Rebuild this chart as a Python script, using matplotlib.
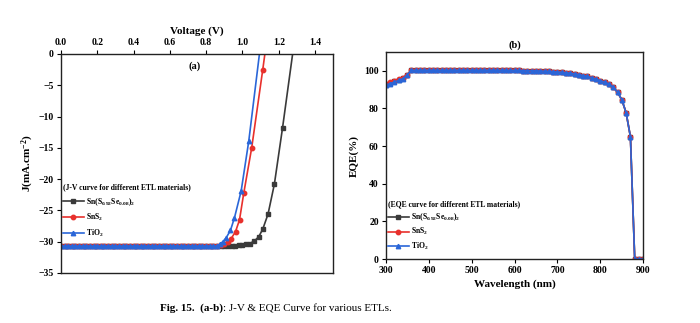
import matplotlib
matplotlib.use("Agg")
import matplotlib.pyplot as plt

plt.rcParams['font.family'] = ['Liberation Serif', 'DejaVu Serif']
plt.rcParams['font.weight'] = 'bold'
plt.rcParams['mathtext.fontset'] = 'custom'
plt.rcParams['mathtext.rm'] = 'Liberation Serif:bold'
plt.rcParams['mathtext.bf'] = 'Liberation Serif:bold'
plt.rcParams['mathtext.it'] = 'Liberation Serif:bold:italic'
plt.rcParams['mathtext.default'] = 'bf'

# ---- J-V data ----
v_flat = [0.00, 0.02, 0.04, 0.06, 0.08, 0.10, 0.12, 0.14, 0.16, 0.18,
          0.20, 0.22, 0.24, 0.26, 0.28, 0.30, 0.32, 0.34, 0.36, 0.38,
          0.40, 0.42, 0.44, 0.46, 0.48, 0.50, 0.52, 0.54, 0.56, 0.58,
          0.60, 0.62, 0.64, 0.66, 0.68, 0.70, 0.72, 0.74, 0.76, 0.78,
          0.80, 0.82, 0.84, 0.86]
j_flat = [-30.7] * len(v_flat)

v_snsse = v_flat + [0.88, 0.90, 0.92, 0.94, 0.96, 0.98, 1.00, 1.02, 1.04, 1.066,
                    1.09, 1.112, 1.141, 1.176, 1.221, 1.30]
j_snsse = j_flat + [-30.7, -30.7, -30.7, -30.7, -30.65, -30.6, -30.55, -30.45, -30.3, -29.9,
                    -29.2, -28.0, -25.6, -20.8, -11.8, 5.0]

v_sns2 = v_flat + [0.88, 0.90, 0.92, 0.938, 0.962, 0.984, 1.007, 1.051, 1.112, 1.14]
j_sns2 = j_flat + [-30.6, -30.4, -30.0, -29.5, -28.4, -26.5, -22.3, -15.0, -2.5, 3.5]

v_tio2 = v_flat + [0.875, 0.892, 0.910, 0.934, 0.956, 0.993, 1.035, 1.10]
j_tio2 = j_flat + [-30.4, -30.0, -29.4, -28.2, -26.2, -21.9, -13.9, 1.5]

# ---- EQE data ----
wavelength = [300, 310, 320, 330, 340, 350, 360, 370, 380, 390,
              400, 410, 420, 430, 440, 450, 460, 470, 480, 490,
              500, 510, 520, 530, 540, 550, 560, 570, 580, 590,
              600, 610, 620, 630, 640, 650, 660, 670, 680, 690,
              700, 710, 720, 730, 740, 750, 760, 770, 780, 790,
              800, 810, 820, 830, 840, 850, 860, 870, 880, 890, 900]
eqe_tio2 = [92.3, 93.2, 94.0, 94.9, 95.8, 97.8, 100.3, 100.3, 100.3, 100.3,
            100.3, 100.3, 100.3, 100.3, 100.3, 100.3, 100.3, 100.3, 100.3, 100.3,
            100.3, 100.3, 100.3, 100.3, 100.3, 100.3, 100.3, 100.3, 100.3, 100.2,
            100.2, 100.2, 100.1, 100.1, 100.0, 100.0, 99.9, 99.8, 99.7, 99.6,
            99.4, 99.2, 99.0, 98.7, 98.4, 98.0, 97.5, 97.0, 96.3, 95.6,
            94.8, 94.0, 92.9, 91.3, 88.6, 84.6, 77.7, 65.0, 0.0, 0.0, 0.0]
eqe_sns2 = [93.0, 93.9, 94.7, 95.5, 96.4] + eqe_tio2[5:]
eqe_snsse = [92.7, 93.6, 94.4, 95.2, 96.1] + eqe_tio2[5:]

labels = [r'Sn(S$_{0.92}$Se$_{0.08}$)$_2$', r'SnS$_2$', r'TiO$_2$']
colors = ['#3a3a3a', '#e8302c', '#2a66d8']
markers = ['s', 'o', '^']

fig = plt.figure(figsize=(7, 3.23), dpi=100)
ax1 = fig.add_axes([0.087, 0.155, 0.389, 0.678])
ax2 = fig.add_axes([0.551, 0.198, 0.368, 0.641])

# (a) J-V
jv = [(v_snsse, j_snsse), (v_sns2, j_sns2), (v_tio2, j_tio2)]
for (v, j), lab, c, m in zip(jv, labels, colors, markers):
    ax1.plot(v, j, color=c, marker=m, markersize=3.2, linewidth=1.2, label=lab)
ax1.set_xlim(0, 1.5)
ax1.set_ylim(-35, 0)
ax1.set_xticks([0.0, 0.2, 0.4, 0.6, 0.8, 1.0, 1.2, 1.4])
ax1.set_yticks([0, -5, -10, -15, -20, -25, -30, -35])
ax1.set_yticklabels(['0', '\u22125', '\u221210', '\u221215', '\u221220', '\u221225', '\u221230', '\u221235'])
ax1.xaxis.tick_top()
ax1.xaxis.set_label_position('top')
ax1.tick_params(axis='both', labelsize=7, length=3, width=0.8, pad=2)
ax1.set_xlabel('Voltage (V)', fontsize=8, fontweight='bold', labelpad=3)
ax1.set_ylabel(r'J(mA.cm$^{-2}$)', fontsize=8, fontweight='bold', labelpad=2)
ax1.text(0.49, 0.945, '(a)', transform=ax1.transAxes, ha='center', va='center',
         fontsize=7.5, fontweight='bold')
leg1 = ax1.legend(title='(J-V curve for different ETL materials)', loc='upper left',
                  bbox_to_anchor=(-0.01, 0.43), frameon=False, fontsize=5.5,
                  title_fontsize=5.5, handlelength=2.8, labelspacing=0.6,
                  handletextpad=0.2, borderaxespad=0.2)
leg1._legend_box.align = 'left'
leg1.get_title().set_fontweight('bold')

# (b) EQE
eqe = [eqe_snsse, eqe_sns2, eqe_tio2]
for e, lab, c, m in zip(eqe, labels, colors, markers):
    ax2.plot(wavelength, e, color=c, marker=m, markersize=3.2, linewidth=1.2, label=lab)
ax2.set_xlim(300, 900)
ax2.set_ylim(0, 110)
ax2.set_xticks([300, 400, 500, 600, 700, 800, 900])
ax2.set_yticks([0, 20, 40, 60, 80, 100])
ax2.tick_params(axis='both', labelsize=7, length=3, width=0.8, pad=2)
ax2.set_xlabel('Wavelength (nm)', fontsize=8, fontweight='bold', labelpad=3)
ax2.set_ylabel('EQE(%)', fontsize=8, fontweight='bold', labelpad=4)
ax2.set_title('(b)', fontsize=7.5, fontweight='bold', pad=3)
leg2 = ax2.legend(title='(EQE curve for different ETL materials)', loc='upper left',
                  bbox_to_anchor=(-0.01, 0.305), frameon=False, fontsize=5.5,
                  title_fontsize=5.5, handlelength=2.8, labelspacing=0.4,
                  handletextpad=0.2, borderaxespad=0.2)
leg2._legend_box.align = 'left'
leg2.get_title().set_fontweight('bold')

for ax in (ax1, ax2):
    for s in ax.spines.values():
        s.set_linewidth(1.0)
        s.set_color('#222222')

# caption, bold part then regular part
r = fig.canvas.get_renderer()
t1 = fig.text(0.229, 0.045, 'Fig. 15.  (a-b)', fontsize=8, fontweight='bold', va='center')
bb = t1.get_window_extent(renderer=r)
x2 = bb.x1 / fig.bbox.width
fig.text(x2, 0.045, ': J-V & EQE Curve for various ETLs.', fontsize=8,
         fontweight='normal', va='center')

fig.savefig('out.png', dpi=100)
